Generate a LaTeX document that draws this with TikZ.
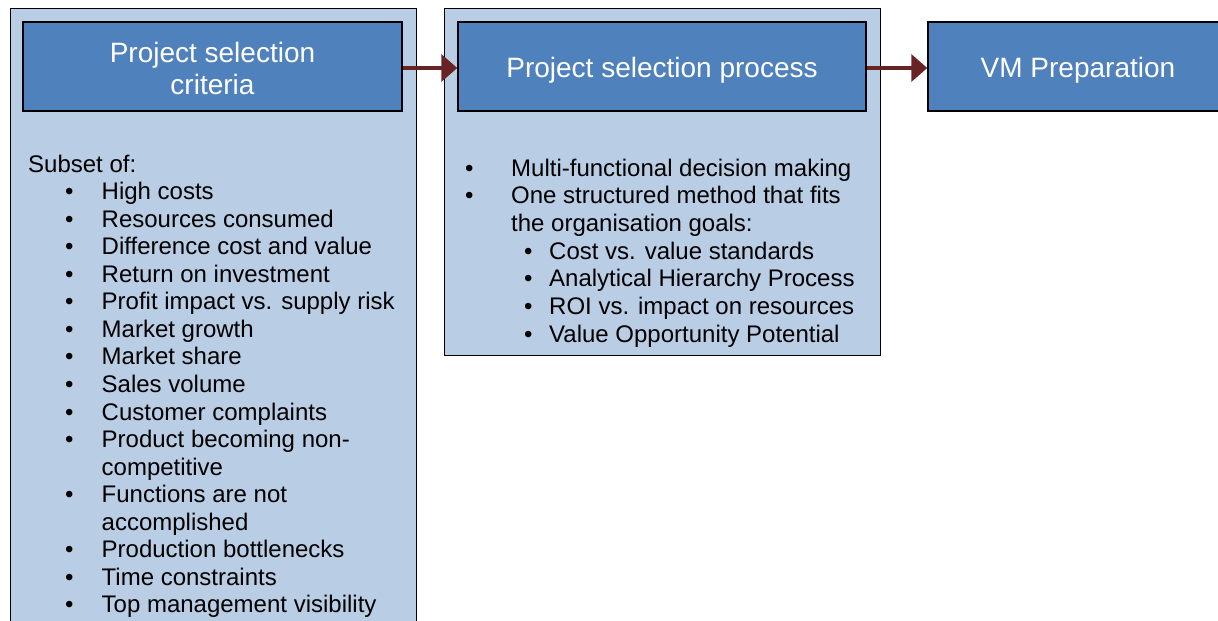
\documentclass[tikz,border=0pt]{standalone}
\usepackage{fontspec}
\setmainfont{Liberation Sans}
\usetikzlibrary{arrows.meta}
\definecolor{panel}{HTML}{B9CDE5}
\definecolor{head}{HTML}{4F81BD}
\definecolor{arr}{HTML}{692324}
\begin{document}
\begin{tikzpicture}[x=1pt,y=-1pt,
  panelbox/.style={draw=black, line width=1.2pt, fill=panel, inner sep=0pt, anchor=north west},
  headbox/.style={draw=black, line width=1.5pt, fill=head, text=white, inner sep=0pt,
    font=\fontsize{28}{32}\selectfont, align=center, text height=22pt, text depth=0pt},
  item/.style={anchor=base west, inner sep=0pt, font=\fontsize{24}{27.6}\selectfont, text=black},
  flow/.style={draw=arr, line width=4pt, -{Triangle[length=16pt,width=27pt]}}]
\useasboundingbox (0,0) rectangle (1218,621);
\clip (0,0) rectangle (1218,621);
% panels
\node[panelbox, minimum width=406.5pt, minimum height=660pt] (pl) at (9.5,7.5) {};
\node[panelbox, minimum width=436.5pt, minimum height=347.5pt] (pm) at (443.5,7.5) {};
% headers
\node[headbox, text height=55pt, minimum width=379pt, minimum height=89pt] (hl) at (212.5,66.5) {Project selection\\criteria};
\node[headbox, minimum width=408pt, minimum height=89pt] (hm) at (662,66.5) {Project selection process};
\node[headbox, minimum width=300pt, minimum height=89pt] (hr) at (1078,66.5) {VM Preparation};
% arrows
\draw[flow] ([yshift=-1.5pt]hl.east) -- ([yshift=-1.5pt]hm.west);
\draw[flow] ([yshift=-1.5pt]hm.east) -- ([yshift=-1.5pt]hr.west);
% left list
\node[item] (l0) at (28,172) {Subset of:};
\foreach \k/\t/\b in {1/High costs/1, 2/Resources consumed/1, 3/Difference cost and value/1,
  4/Return on investment/1, 5/Profit impact vs. supply risk/1, 6/Market growth/1,
  7/Market share/1, 8/Sales volume/1, 9/Customer complaints/1, 10/Product becoming non-/1,
  11/competitive/0, 12/Functions are not/1, 13/accomplished/0, 14/Production bottlenecks/1,
  15/Time constraints/1, 16/Top management visibility/1}{
  \node[item] (l\k) at (101.5,172+27.56*\k) {\t};
  \ifnum\b=1 \node[item] (lb\k) at (64.8,172+27.56*\k) {•}; \fi
}
% middle list
\node[item] (mb0) at (464.8,176) {•};
\node[item] (m0) at (511,176) {Multi-functional decision making};
\node[item] (mb1) at (464.8,176+27.67) {•};
\node[item] (m1) at (511,176+27.67) {One structured method that fits};
\node[item] (m2) at (511,176+2*27.67) {the organisation goals:};
\foreach \k/\t in {3/Cost vs. value standards, 4/Analytical Hierarchy Process,
  5/ROI vs. impact on resources, 6/Value Opportunity Potential}{
  \node[item] (mb\k) at (523.8,176+27.67*\k) {•};
  \node[item] (m\k) at (549,176+27.67*\k) {\t};
}
\end{tikzpicture}
\end{document}
